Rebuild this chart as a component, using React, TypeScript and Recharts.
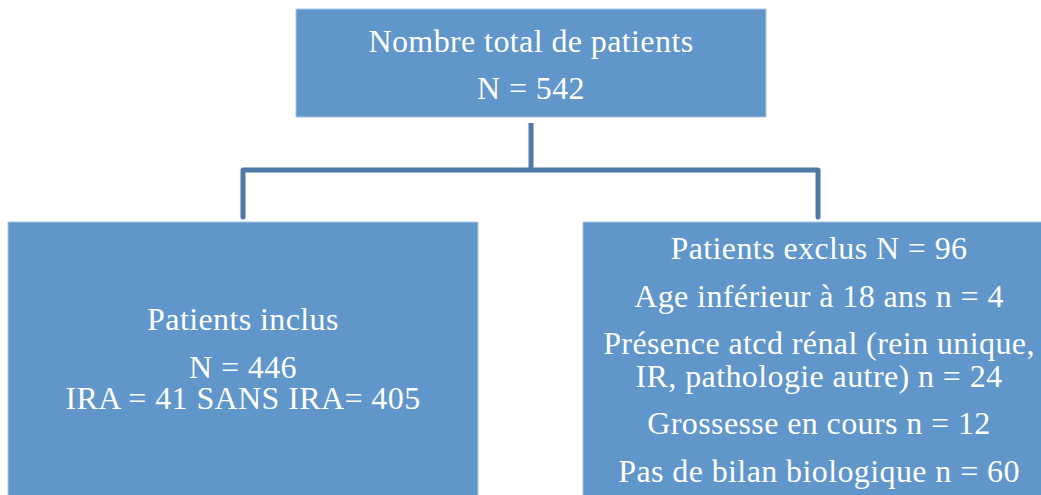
import React from "react";
import {
  ComposedChart,
  XAxis,
  YAxis,
  ReferenceArea,
  Scatter,
} from "recharts";

// textes des trois boites du diagramme
const TOTAL_LINES = ["Nombre total de patients", "N = 542"];
const INCLUS_LINES = ["Patients inclus", "N = 446", "IRA = 41 SANS IRA= 405"];
const EXCLUS_LINES = [
  "Patients exclus N = 96",
  "Age inférieur à 18 ans n = 4",
  "Présence atcd rénal (rein unique,",
  "IR,  pathologie autre) n = 24",
  "Grossesse en cours n = 12",
  "Pas de bilan biologique n = 60",
];

const W = 1041;
const H = 495;
const FILL = "#6096c9";
const BORDER = "#a7c3e2";
const CONNECT = "#4e7aa6";
const FONT = "'Liberation Serif', serif";

// layout (pixels, same scale as the axes)
const BOX_TOTAL = { x1: 296, x2: 766, y1: 9, y2: 117, base: [43, 90] };
const BOX_INCLUS = { x1: 8, x2: 478, y1: 222, y2: 520, base: [108, 156, 187] };
const BOX_EXCLUS = {
  x1: 583,
  x2: 1055,
  y1: 222,
  y2: 520,
  base: [37, 85, 132, 165, 212, 260],
};

// connecteurs
const STEM = [
  { x: 531, y: 123 },
  { x: 531, y: 170 },
];
const ELBOW = [
  { x: 243, y: 217 },
  { x: 243, y: 170 },
  { x: 818, y: 170 },
  { x: 818, y: 217 },
];

function boxLabel(lines: string[], base: number[]) {
  return (props: any) => {
    const vb = props.viewBox || {};
    const cx = vb.x + vb.width / 2;
    return (
      <g>
        {lines.map((t, i) => (
          <text
            key={i}
            x={cx}
            y={vb.y + base[i]}
            textAnchor="middle"
            fill="#ffffff"
            fontFamily={FONT}
            fontSize={32}
            letterSpacing={0.4}
          >
            {t}
          </text>
        ))}
      </g>
    );
  };
}

const NoDot = () => null;

export default function App() {
  const box = (b: any, lines: string[], key: string) => (
    <ReferenceArea
      key={key}
      x1={b.x1}
      x2={b.x2}
      y1={b.y1}
      y2={b.y2}
      fill={FILL}
      fillOpacity={1}
      stroke={BORDER}
      strokeWidth={1}
      ifOverflow="visible"
      label={boxLabel(lines, b.base)}
    />
  );
  return (
    <div
      style={{
        position: "absolute",
        left: 0,
        top: 0,
        width: W,
        height: H,
        overflow: "hidden",
        background: "#ffffff",
      }}
    >
      <ComposedChart
        width={W}
        height={H}
        margin={{ top: 0, right: 0, bottom: 0, left: 0 }}
      >
        <XAxis
          type="number"
          dataKey="x"
          domain={[0, W]}
          allowDataOverflow
          hide
        />
        <YAxis
          type="number"
          dataKey="y"
          domain={[0, H]}
          allowDataOverflow
          reversed
          hide
        />
        {box(BOX_TOTAL, TOTAL_LINES, "t")}
        {box(BOX_INCLUS, INCLUS_LINES, "i")}
        {box(BOX_EXCLUS, EXCLUS_LINES, "e")}
        <Scatter
          data={STEM}
          line={{ stroke: CONNECT, strokeWidth: 5 }}
          shape={NoDot}
          isAnimationActive={false}
        />
        <Scatter
          data={ELBOW}
          line={{
            stroke: CONNECT,
            strokeWidth: 5,
            strokeLinejoin: "round",
            strokeLinecap: "round",
          }}
          shape={NoDot}
          isAnimationActive={false}
        />
      </ComposedChart>
    </div>
  );
}
